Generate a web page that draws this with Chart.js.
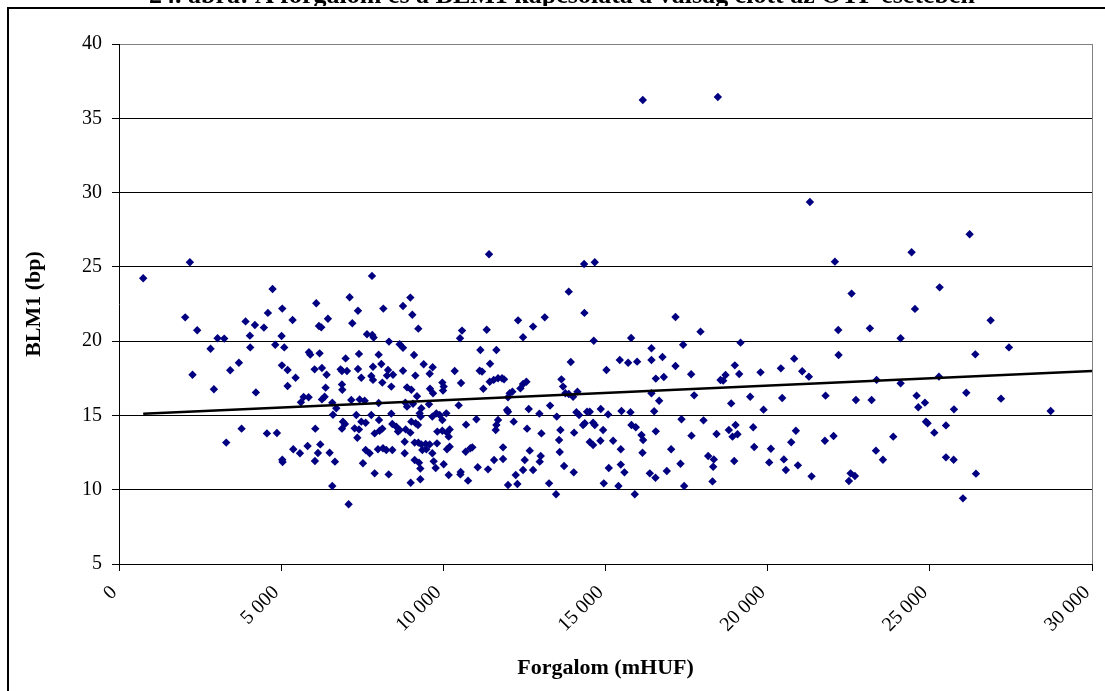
<!DOCTYPE html>
<html>
<head>
<meta charset="utf-8">
<script src="https://cdn.jsdelivr.net/npm/chart.js@4/dist/chart.umd.min.js"></script>
<style>
  html,body{margin:0;padding:0;background:#fff;}
  #wrap{width:1105px;height:691px;position:relative;}
</style>
</head>
<body>
<div id="wrap"><canvas id="c" width="1105" height="691"></canvas></div>
<script>
const chartTitle = "24. ábra: A forgalom és a BLM1 kapcsolata a válság előtt az OTP esetében";
const xAxisTitle = "Forgalom (mHUF)";
const yAxisTitle = "BLM1 (bp)";
const xTicks = [0, 5000, 10000, 15000, 20000, 25000, 30000];
const yTicks = [5, 10, 15, 20, 25, 30, 35, 40];

// [Forgalom (mHUF), BLM1 (bp)]
const scatterPoints = [
[746,24.23],[2185,25.31],[2041,21.60],[2411,20.73],[2267,17.74],[2823,19.49],[3039,20.19],[3244,20.17],
[2926,16.76],[3306,13.17],[3429,18.04],[3697,18.55],[3779,14.11],[3902,21.33],[4036,20.37],[4046,19.58],
[4190,21.09],[4221,16.55],[4468,20.91],[4591,21.90],[4561,13.79],[4735,23.51],[4818,19.76],[4869,13.82],
[5034,22.19],[5013,20.35],[5095,19.58],[5023,18.37],[5198,18.06],[5198,16.98],[5352,21.42],[5445,17.54],
[5373,12.72],[5034,12.02],[5044,11.86],[5579,12.45],[5609,15.88],[5692,16.24],[5846,16.22],[5815,12.94],
[5856,19.25],[5897,19.09],[6031,18.10],[6052,14.11],[6082,22.55],[6165,21.02],[6237,20.93],[6185,19.18],
[6257,18.19],[6401,17.74],[6370,16.87],[6340,16.26],[6257,16.08],[6206,13.05],[6134,12.47],[6041,11.93],
[6442,21.51],[6494,12.49],[6597,15.05],[6576,15.86],[6699,15.48],[6576,10.25],[6658,11.89],[6987,18.84],
[6833,18.10],[6874,17.99],[7029,17.99],[6874,17.09],[6885,16.73],[6905,14.58],[6967,14.42],[6874,14.11],
[7080,9.02],
[11409,25.85],[7800,24.39],[14340,25.19],[13867,23.33],[7111,22.95],[8983,22.93],[8756,22.37],[8150,22.19],
[7368,22.05],[9044,21.78],[14350,21.90],[7193,21.20],[12304,21.40],[13127,21.60],[12767,20.98],[9229,20.84],
[10576,20.71],[11337,20.77],[10515,20.19],[12458,20.26],[7646,20.46],[7810,20.41],[7851,20.24],[8324,19.97],
[8653,19.79],[8756,19.56],[11142,19.40],[11636,19.40],[7399,19.14],[8006,19.09],[9096,19.07],[13929,18.60],
[11440,18.48],[9394,18.44],[9671,18.24],[9579,17.81],[7831,18.28],[8088,18.46],[7368,18.13],[8294,18.06],
[8448,17.74],[8263,17.68],[8756,18.01],[10350,17.99],[11121,18.01],[11193,17.95],[7471,17.54],[7779,17.65],
[7831,17.39],[8119,17.21],[8396,16.94],[9137,17.68],[9970,17.21],[10011,16.94],[10546,17.18],[11430,17.27],
[11553,17.39],[11687,17.50],[11810,17.50],[11872,17.43],[11234,16.80],[12561,17.27],[12458,17.12],[12376,16.82],
[13641,17.43],[13692,16.94],[8880,16.89],[9013,16.73],[9589,16.80],[9682,16.49],[9990,16.67],[7162,16.04],
[7420,16.08],[7574,15.99],[8006,15.84],[8828,15.86],[8880,15.59],[9065,15.79],[9188,16.29],[9558,15.75],
[10474,15.68],[12047,16.49],[11995,16.22],[12129,16.60],[13764,16.49],[13867,16.44],[14001,16.26],[14134,16.60],
[13291,15.66],[9322,15.48],[11965,15.37],[11995,15.25],[12633,15.43],[12962,15.12],[14103,15.21],[14186,15.03],
[14432,15.25],[7317,15.03],[7779,15.03],[8396,15.12],[9270,15.14],[9301,14.92],[9785,15.14],[9661,14.92],
[9887,15.03],[9970,14.69],[10093,15.14],[7471,14.58],[7605,14.51],[8016,14.69],[8427,14.42],[8551,14.24],
[9147,14.47],[9219,14.36],[9013,14.58],[7265,14.13],[7399,14.06],[7882,13.79],[8119,14.11],[8036,13.97],
[8602,13.91],[8653,14.02],[8839,14.06],[8983,13.84],[9815,13.91],[9970,13.97],[10114,13.84],[10196,14.06],
[10700,14.38],[11019,14.74],[11636,14.36],[11615,14.02],[11687,14.69],[12170,14.58],[12582,14.11],[13024,13.79],
[13497,14.92],[13610,14.02],[14032,13.84],[14309,14.36],[14361,14.47],[7348,13.50],[10165,13.57],[8808,13.23],
[9116,13.17],[9229,13.17],[9322,13.05],[9455,13.08],[9579,13.05],[7985,12.72],[8139,12.79],[8242,12.67],
[8427,12.67],[7605,12.67],[7728,12.45],[9353,12.67],[9476,12.72],[9661,12.45],[9805,13.12],[10114,12.72],
[10196,12.90],[10689,12.56],[10833,12.79],[10895,12.85],[11841,12.85],[12664,12.63],[13003,12.27],[13569,13.35],
[13589,12.54],[8808,12.45],[9116,12.00],[9250,11.82],[9291,11.42],[9702,11.91],[9764,11.46],[10011,11.71],
[7522,11.78],[10535,11.19],[10525,11.03],[11060,11.51],[11378,11.37],[11564,12.00],[11841,12.07],[12510,12.00],
[12458,11.33],[12767,11.33],[12972,11.89],[13723,11.60],[14021,11.17],[7882,11.10],[8314,11.03],[8993,10.47],
[9291,10.70],[10165,10.99],[10762,10.61],[11995,10.32],[12283,10.38],[12232,10.99],[13260,10.43],[13476,9.69],
[14669,25.31],[22073,25.35],[17158,21.63],[17929,20.64],[14638,20.03],[15790,20.21],[17394,19.76],[19163,19.90],
[22176,20.75],[16417,19.52],[22186,19.07],[15440,18.73],[15698,18.55],[15975,18.62],[16417,18.73],[16757,18.93],
[15029,18.06],[17158,18.33],[18988,18.37],[20407,18.17],[20818,18.82],[21065,17.97],[21271,17.61],[16551,17.48],
[16798,17.59],[17641,17.77],[18546,17.38],[18628,17.34],[18700,17.72],[19122,17.79],[19780,17.90],[16417,16.49],
[16654,15.99],[17734,16.35],[18875,15.81],[19461,16.26],[20448,16.17],[21785,16.33],[14854,15.43],[15081,15.07],
[15492,15.30],[15770,15.21],[16500,15.28],[19873,15.39],[14515,15.25],[14618,14.51],[14669,14.36],[14926,14.02],
[15800,14.36],[15934,14.20],[16109,13.68],[16160,13.35],[16551,13.93],[17343,14.74],[18022,14.67],[17651,13.64],
[18423,13.75],[18803,14.02],[18916,13.57],[19009,14.36],[19070,13.73],[19554,14.20],[20870,13.97],[20726,13.19],
[21764,13.30],[22032,13.62],[14515,13.21],[14618,13.01],[14844,13.30],[15235,13.30],[15471,12.72],[16140,12.49],
[17024,12.72],[18165,12.27],[18340,12.04],[18320,11.55],[18968,11.93],[19585,12.87],[20099,12.76],[20047,11.84],
[20500,12.04],[20561,11.33],[20932,11.64],[15101,11.46],[15471,11.69],[15584,11.17],[16366,11.10],[16541,10.81],
[16890,11.26],[17312,11.75],[14947,10.43],[15399,10.25],[17425,10.25],[18299,10.56],[21353,10.90],[15903,9.69],
[26227,27.19],[24438,25.98],[22587,23.20],[25302,23.62],[24541,22.17],[26875,21.40],[23152,20.86],[24099,20.19],
[26402,19.11],[27440,19.58],[23358,17.39],[24099,17.16],[25281,17.61],[22721,16.04],[23204,16.04],[24592,16.33],
[24849,15.86],[24644,15.55],[26124,16.53],[25744,15.41],[27194,16.13],[28726,15.30],[24880,14.58],[24931,14.47],
[25497,14.33],[25137,13.84],[23872,13.57],[23338,12.63],[23554,12.02],[25497,12.18],[25734,12.02],[26422,11.08],
[22556,11.10],[22690,10.92],[22505,10.59],[26021,9.42],
[16150,36.23],[18464,36.43],[21302,29.37]
];

// linear trend line endpoints
const trendX = [746, 30000];
const trendY = [15.12, 17.99];

const FONT = "'Liberation Serif','Times New Roman',Times,serif";
const fmt = v => String(v).replace(/\B(?=(\d{3})+(?!\d))/g, ' ');

const framePlugin = {
  id: 'frame',
  beforeDraw(chart) {
    const ctx = chart.ctx;
    ctx.save();
    ctx.fillStyle = '#fff';
    ctx.fillRect(0, 0, chart.width, chart.height);
    ctx.fillStyle = '#000';
    ctx.font = "bold 26px " + FONT;
    ctx.textAlign = 'center';
    ctx.textBaseline = 'alphabetic';
    ctx.fillText(chartTitle, 562, 3);
    ctx.fillStyle = '#fff';
    ctx.fillRect(0, 6, chart.width, 4);
    ctx.fillStyle = '#000';
    ctx.fillRect(7, 7, chart.width, 2);
    ctx.fillRect(7, 7, 2, chart.height);
    ctx.restore();
  },
  afterDatasetsDraw(chart) {
    const {ctx, chartArea: a} = chart;
    ctx.save();
    ctx.strokeStyle = '#808080';
    ctx.lineWidth = 1;
    ctx.beginPath();
    ctx.moveTo(a.right + 0.5, a.top);
    ctx.lineTo(a.right + 0.5, a.bottom);
    ctx.stroke();
    ctx.restore();
  }
};

new Chart(document.getElementById('c'), {
  type: 'scatter',
  data: {
    datasets: [
      {
        type: 'line',
        data: trendX.map((x, i) => ({x, y: trendY[i]})),
        borderColor: '#000',
        borderWidth: 2.5,
        pointRadius: 0,
        fill: false,
        showLine: true
      },
      {
        data: scatterPoints.map(p => ({x: p[0], y: p[1]})),
        pointStyle: 'rectRot',
        pointRadius: 4.2,
        pointBackgroundColor: '#000080',
        pointBorderColor: '#000080',
        pointBorderWidth: 0,
        showLine: false
      }
    ]
  },
  options: {
    responsive: false,
    animation: false,
    events: [],
    layout: {padding: {top: 44, right: 13, left: 0, bottom: 0}},
    plugins: {legend: {display: false}, tooltip: {enabled: false}, title: {display: false}},
    scales: {
      x: {
        type: 'linear',
        min: 0, max: 30000,
        afterBuildTicks: s => { s.ticks = xTicks.map(v => ({value: v})); },
        afterFit: s => { s.height = 127; s.paddingLeft = 0; s.paddingRight = 0; },
        ticks: {
          minRotation: 45, maxRotation: 45,
          color: '#000',
          padding: 10,
          labelOffset: -5,
          font: {family: FONT, size: 20},
          callback: v => fmt(v)
        },
        grid: {drawOnChartArea: false, drawTicks: true, tickLength: 7, color: '#000'},
        border: {color: '#000', width: 1},
        title: {
          display: true, text: xAxisTitle, color: '#000',
          font: {family: FONT, size: 22, weight: 'bold'},
          padding: {top: 0, bottom: 9}
        }
      },
      y: {
        type: 'linear',
        min: 5, max: 40,
        afterBuildTicks: s => { s.ticks = yTicks.map(v => ({value: v})); },
        afterFit: s => { s.width = 119; s.paddingTop = 0; s.paddingBottom = 0; },
        ticks: {
          color: '#000',
          padding: 10,
          font: {family: FONT, size: 20},
          callback: v => String(v)
        },
        grid: {
          drawOnChartArea: true, drawTicks: true, tickLength: 7,
          color: ctx => (ctx.tick && ctx.tick.value === 40) ? '#808080' : '#000',
          tickColor: '#000'
        },
        border: {color: '#000', width: 1},
        title: {
          display: true, text: yAxisTitle, color: '#000',
          font: {family: FONT, size: 22, weight: 'bold'},
          padding: {top: 21, bottom: 0}
        }
      }
    }
  },
  plugins: [framePlugin]
});
</script>
</body>
</html>
